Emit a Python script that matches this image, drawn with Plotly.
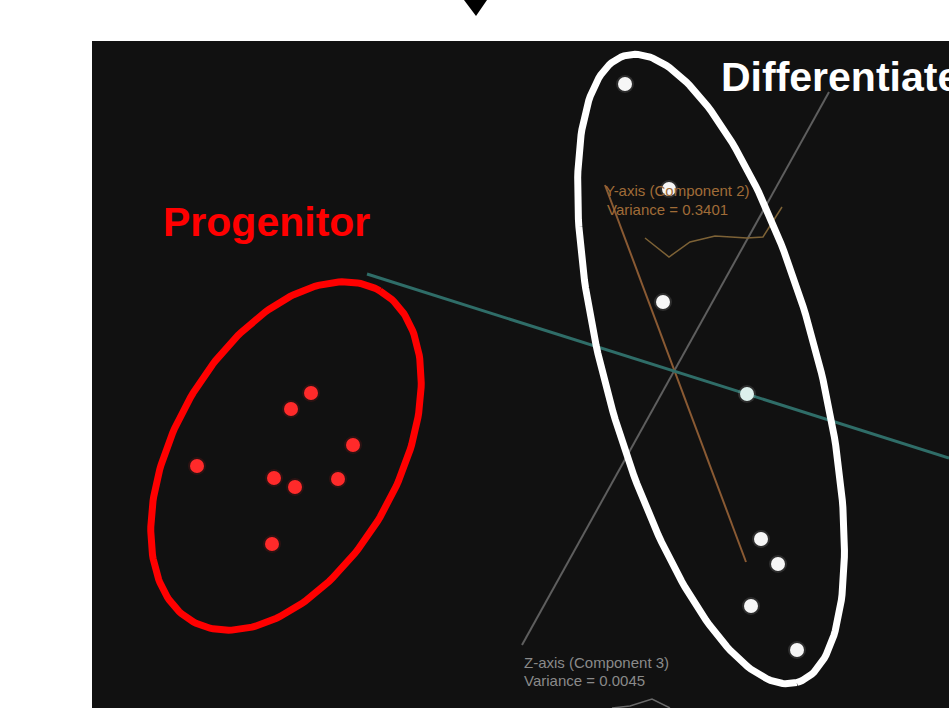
import numpy as np
import plotly.graph_objects as go

# ---- data (screen-style coordinates: x to the right, y downward) ----
progenitor_x = [311, 291, 353, 197, 274, 295, 338, 272]
progenitor_y = [393, 409, 445, 466, 478, 487, 479, 544]

differentiated_x = [625, 669, 663, 761, 778, 751, 797]
differentiated_y = [84, 189, 302, 539, 564, 606, 650]

# cell sitting on the component-1 axis
on_axis_x = [747]
on_axis_y = [394]

# principal component axes
pc1_x = [367, 949]
pc1_y = [274, 458]
pc2_x = [605, 746]
pc2_y = [185, 562]
pc3_x = [829, 522]
pc3_y = [92, 645]

# variance profile traces
pc2_profile_x = [645, 669, 690, 715, 747, 763, 782]
pc2_profile_y = [238, 257, 242, 236, 238, 237, 207]
pc3_profile_x = [612, 630, 652, 670]
pc3_profile_y = [708, 706, 699, 708]

W, H = 949, 708


def ellipse(cx, cy, a, b, angle_deg, n=240):
    t = np.linspace(0, 2 * np.pi, n)
    th = np.deg2rad(angle_deg)
    x = cx + a * np.cos(t) * np.cos(th) - b * np.sin(t) * np.sin(th)
    y = cy + a * np.cos(t) * np.sin(th) + b * np.sin(t) * np.cos(th)
    return x, y


fig = go.Figure()

# axes of the projection
fig.add_trace(go.Scatter(x=pc3_x, y=pc3_y, mode="lines",
                         line=dict(color="#5e5e5e", width=2)))
fig.add_trace(go.Scatter(x=pc2_x, y=pc2_y, mode="lines",
                         line=dict(color="#8a5a33", width=2)))
fig.add_trace(go.Scatter(x=pc1_x, y=pc1_y, mode="lines",
                         line=dict(color="#2f6d68", width=3)))
fig.add_trace(go.Scatter(x=pc2_profile_x, y=pc2_profile_y, mode="lines",
                         line=dict(color="#7d6236", width=1.5)))
fig.add_trace(go.Scatter(x=pc3_profile_x, y=pc3_profile_y, mode="lines",
                         line=dict(color="#6a6a6a", width=1.5)))

# progenitor cells (faint halo + core)
fig.add_trace(go.Scatter(x=progenitor_x, y=progenitor_y, mode="markers",
                         marker=dict(size=18, color="rgba(255,30,30,0.12)", line=dict(width=0))))
fig.add_trace(go.Scatter(x=progenitor_x, y=progenitor_y, mode="markers",
                         marker=dict(size=14, color="#ff2a2a", line=dict(width=0))))

# differentiated cells (faint halo + core)
fig.add_trace(go.Scatter(x=differentiated_x + on_axis_x, y=differentiated_y + on_axis_y,
                         mode="markers",
                         marker=dict(size=18, color="rgba(255,255,255,0.12)", line=dict(width=0))))
fig.add_trace(go.Scatter(x=differentiated_x, y=differentiated_y, mode="markers",
                         marker=dict(size=14, color="#f6f6f6", line=dict(width=0))))
fig.add_trace(go.Scatter(x=on_axis_x, y=on_axis_y, mode="markers",
                         marker=dict(size=14, color="#ddf0ec", line=dict(width=0))))

# cluster outlines
ex, ey = ellipse(286, 456, 190, 112, -60.4)
fig.add_trace(go.Scatter(x=ex, y=ey, mode="lines", line=dict(color="#ff0000", width=7)))
ex, ey = ellipse(711, 369, 325, 106, 74.7)
fig.add_trace(go.Scatter(x=ex, y=ey, mode="lines", line=dict(color="#ffffff", width=7)))

# marker at the top of the panel
fig.add_trace(go.Scatter(x=[464, 487, 476, 464], y=[0, 0, 16, 0], mode="lines",
                         fill="toself", fillcolor="#000000", line=dict(color="#000000", width=0)))

annotations = [
    dict(x=161, y=222, text="<b>Progenitor</b>", xanchor="left", yanchor="middle",
         font=dict(family="Liberation Sans", size=41, color="#ff0000")),
    dict(x=719, y=77, text="<b>Differentiated</b>", xanchor="left", yanchor="middle",
         font=dict(family="Liberation Sans", size=41, color="#ffffff")),
    dict(x=603, y=190, text="Y-axis (Component 2)", xanchor="left", yanchor="middle",
         font=dict(family="Liberation Sans", size=15, color="#a06c38")),
    dict(x=605, y=209, text="Variance = 0.3401", xanchor="left", yanchor="middle",
         font=dict(family="Liberation Sans", size=15, color="#a06c38")),
    dict(x=522, y=662, text="Z-axis (Component 3)", xanchor="left", yanchor="middle",
         font=dict(family="Liberation Sans", size=15, color="#8a8a8a")),
    dict(x=522, y=680, text="Variance = 0.0045", xanchor="left", yanchor="middle",
         font=dict(family="Liberation Sans", size=15, color="#8a8a8a")),
]
for a in annotations:
    a.update(xref="x", yref="y", showarrow=False)

fig.update_layout(
    width=W, height=H,
    margin=dict(l=0, r=0, t=0, b=0),
    paper_bgcolor="#ffffff", plot_bgcolor="#ffffff",
    showlegend=False,
    xaxis=dict(range=[0, W], visible=False, fixedrange=True),
    yaxis=dict(range=[H, 0], visible=False, fixedrange=True),
    shapes=[dict(type="rect", xref="x", yref="y", x0=92, x1=W, y0=41, y1=H,
                 fillcolor="#111111", line=dict(width=0), layer="below")],
    annotations=annotations,
)

fig.write_html("out.html")
